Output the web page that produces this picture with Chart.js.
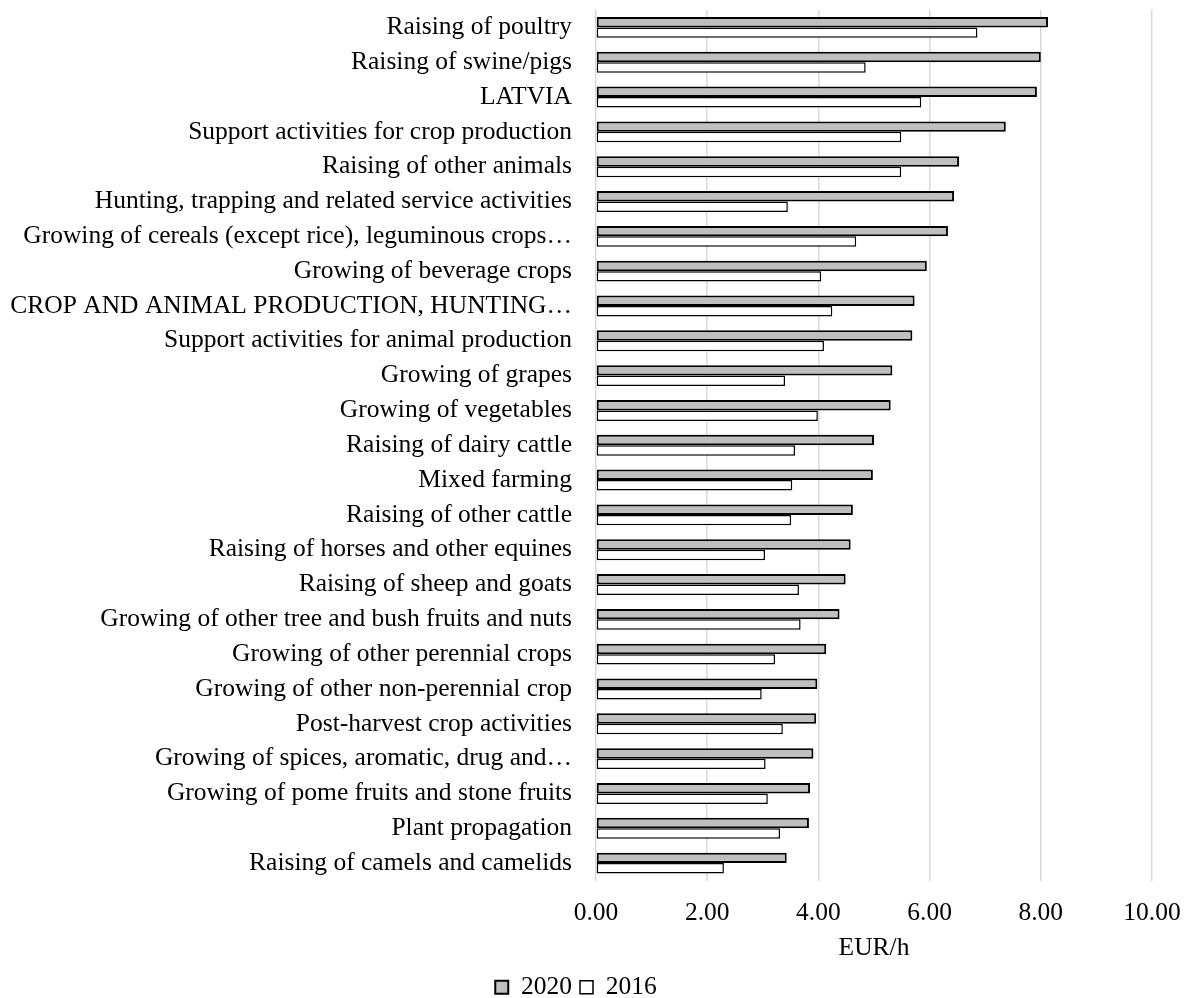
<!DOCTYPE html>
<html>
<head>
<meta charset="utf-8">
<script src="https://cdn.jsdelivr.net/npm/chart.js@4/dist/chart.umd.min.js"></script>
<style>
  html, body { margin: 0; padding: 0; background: #ffffff; }
  #wrap { width: 1189px; height: 998px; position: relative; }
</style>
</head>
<body>
<div id="wrap"><canvas id="chart" width="1189" height="998"></canvas></div>
<script>
// Hourly labour cost by agricultural activity, EUR/h
const categories = [
  "Raising of poultry",
  "Raising of swine/pigs",
  "LATVIA",
  "Support activities for crop production",
  "Raising of other animals",
  "Hunting, trapping and related service activities",
  "Growing of cereals (except rice), leguminous crops\u2026",
  "Growing of beverage crops",
  "CROP AND ANIMAL PRODUCTION, HUNTING\u2026",
  "Support activities for animal production",
  "Growing of grapes",
  "Growing of vegetables",
  "Raising of dairy cattle",
  "Mixed farming",
  "Raising of other cattle",
  "Raising of horses and other equines",
  "Raising of sheep and goats",
  "Growing of other tree and bush fruits and nuts",
  "Growing of other perennial crops",
  "Growing of other non-perennial crop",
  "Post-harvest crop activities",
  "Growing of spices, aromatic, drug and\u2026",
  "Growing of pome fruits and stone fruits",
  "Plant propagation",
  "Raising of camels and camelids"
];

const values2020 = [8.13, 8.00, 7.93, 7.37, 6.53, 6.44, 6.33, 5.95, 5.73, 5.69,
                    5.33, 5.30, 5.00, 4.98, 4.62, 4.58, 4.49, 4.38, 4.14, 3.98,
                    3.96, 3.91, 3.85, 3.83, 3.43];

const values2016 = [6.86, 4.85, 5.85, 5.49, 5.49, 3.45, 4.68, 4.05, 4.25, 4.10,
                    3.40, 3.99, 3.58, 3.53, 3.51, 3.04, 3.65, 3.68, 3.22, 2.98,
                    3.36, 3.05, 3.09, 3.31, 2.30];

const seriesNames = ["2020", "2016"];
const xTicks = { min: 0, max: 10, step: 2 };
const axisTitle = "EUR/h";

const FONT = "'Liberation Serif', 'Times New Roman', serif";
const FS = 25.5;
Chart.defaults.font.family = FONT;
Chart.defaults.color = "#000000";

new Chart(document.getElementById("chart"), {
  type: "bar",
  data: {
    labels: categories,
    datasets: [
      {
        label: seriesNames[0],
        data: values2020,
        backgroundColor: "#bfbfbf",
        borderColor: "#000000",
        borderWidth: 2,
        borderSkipped: false
      },
      {
        label: seriesNames[1],
        data: values2016,
        backgroundColor: "#ffffff",
        borderColor: "#000000",
        borderWidth: 1.5,
        borderSkipped: false
      }
    ]
  },
  options: {
    indexAxis: "y",
    responsive: false,
    animation: false,
    // the legend block is allowed to hang slightly past the lower edge
    layout: { padding: { top: 10, right: 37, left: 0, bottom: -12 } },
    datasets: {
      bar: { categoryPercentage: 0.6, barPercentage: 1.0 }
    },
    scales: {
      x: {
        min: xTicks.min,
        max: xTicks.max,
        ticks: {
          stepSize: xTicks.step,
          padding: 17,
          font: { size: FS },
          color: "#000000",
          callback: (v) => Number(v).toFixed(2)
        },
        grid: { color: "#d9d9d9", lineWidth: 1.5, drawTicks: false },
        border: { display: false },
        title: {
          display: true,
          text: axisTitle,
          font: { size: FS },
          color: "#000000",
          padding: { top: 4, bottom: 3 }
        },
        afterFit: (scale) => {
          scale.height = 86;
          scale.paddingLeft = 0;
          scale.paddingRight = 0;
        }
      },
      y: {
        ticks: {
          padding: 24,
          font: { size: FS },
          color: "#000000",
          autoSkip: false
        },
        grid: { display: false, drawTicks: false },
        border: { display: false },
        afterFit: (scale) => {
          scale.width = 596;
          scale.paddingTop = 0;
          scale.paddingBottom = 0;
        }
      }
    },
    plugins: {
      legend: {
        position: "bottom",
        labels: {
          boxWidth: 13,
          boxHeight: 13,
          padding: 8,
          font: { size: FS },
          color: "#000000"
        }
      },
      tooltip: { enabled: false }
    }
  }
});
</script>
</body>
</html>
